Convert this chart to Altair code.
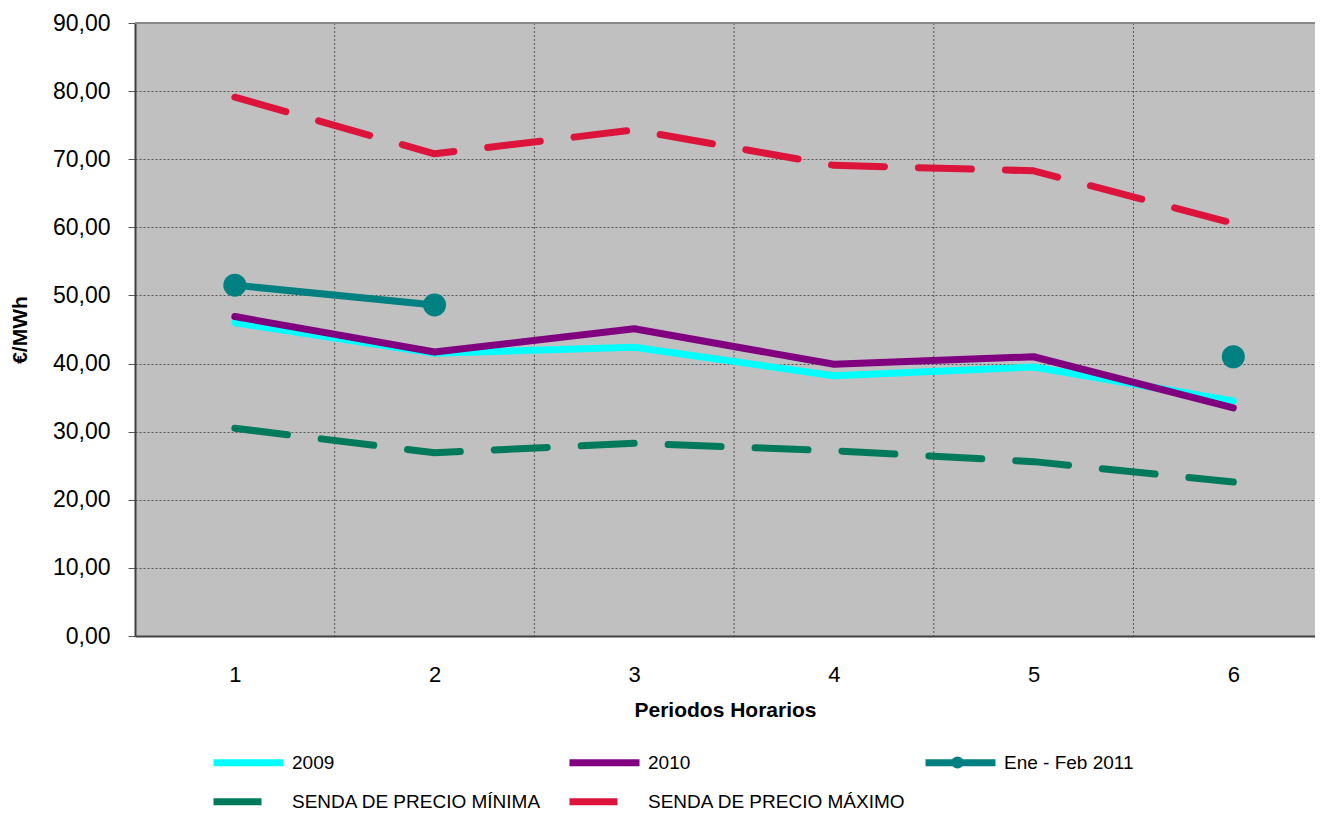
import altair as alt
import pandas as pd

periods = [1, 2, 3, 4, 5, 6]
solid_names = ["2009", "2010", "Ene - Feb 2011"]
dash_names = ["SENDA DE PRECIO MÍNIMA", "SENDA DE PRECIO MÁXIMO"]
s2009 = [46.0, 41.5, 42.4, 38.2, 39.5, 34.5]
s2010 = [46.9, 41.7, 45.1, 39.9, 41.0, 33.5]
s2011 = [51.5, 48.6, None, None, None, 41.0]
s_min = [30.5, 26.9, 28.3, 27.2, 25.6, 22.6]
s_max = [79.1, 70.8, 74.3, 69.1, 68.3, 60.6]
solid_colors = ["#00FFFF", "#800080", "#008080"]
dash_colors = ["#007A5A", "#DC143C"]
grid_x = [1.5, 2.5, 3.5, 4.5, 5.5]
y_ticks = [0, 10, 20, 30, 40, 50, 60, 70, 80, 90]

rows = []
for name, vals in zip(solid_names + dash_names, [s2009, s2010, s2011, s_min, s_max]):
    for p, v in zip(periods, vals):
        rows.append({"period": p, "series": name, "value": v})
df = pd.DataFrame(rows)

FONT = "Liberation Sans"
xscale = alt.Scale(domain=[0.5, 6.409], nice=False, zero=False)
yscale = alt.Scale(domain=[0, 90], nice=False)

x_axis = alt.Axis(
    values=periods, title="Periodos Horarios", grid=False, ticks=False,
    labelFontSize=22, labelFont=FONT, labelColor="black", labelPadding=28,
    titleFontSize=21, titleFont=FONT, titleFontWeight="bold", titleColor="black",
    titlePadding=14, domainColor="#404040", domainWidth=2, labelFlush=False,
)
y_axis = alt.Axis(
    values=y_ticks, title="€/MWh",
    labelExpr="replace(format(datum.value, '.2f'), '.', ',')",
    labelFontSize=23, labelFont=FONT, labelColor="black", labelPadding=18,
    tickSize=7, tickColor="#555555", tickWidth=1,
    gridColor="#555555", gridDash=[2, 2], gridWidth=1, gridOpacity=1,
    domainColor="#404040", domainWidth=2,
    titleFontSize=21, titleFont=FONT, titleFontWeight="bold", titleColor="black",
    titlePadding=22,
)

common_legend = dict(
    title=None, orient="none", direction="horizontal",
    symbolType="stroke", symbolSize=4900, symbolStrokeWidth=7,
    labelFontSize=19, labelFont=FONT, labelColor="black", labelOffset=5,
    labelLimit=500, gridAlign="all", padding=0, symbolOpacity=1,
)
legend1 = alt.Legend(legendX=75, legendY=701, columns=3, columnPadding=133, **common_legend)
legend2 = alt.Legend(legendX=75, legendY=740, columns=2, columnPadding=5,
                     symbolDash=[48, 200], **common_legend)
legend3 = alt.Legend(
    title=None, orient="none", legendX=816, legendY=733,
    symbolSize=150, symbolFillColor="#008080", symbolStrokeColor="#008080",
    symbolStrokeWidth=0, symbolOpacity=1, labelExpr="''", padding=0,
)

base = alt.Chart(df)
X = alt.X("period:Q", scale=xscale, axis=x_axis)
Y = alt.Y("value:Q", scale=yscale, axis=y_axis)

grid = alt.Chart(pd.DataFrame({"gx": grid_x})).mark_rule(
    color="#555555", strokeDash=[2, 2], strokeWidth=1
).encode(x=alt.X("gx:Q", scale=xscale, axis=x_axis))

top = alt.Chart(pd.DataFrame({"t": [90]})).mark_rule(
    color="#888888", strokeWidth=2
).encode(y=alt.Y("t:Q", scale=yscale, axis=y_axis))

dashed = base.transform_filter(
    alt.FieldOneOfPredicate(field="series", oneOf=dash_names)
).mark_line(
    strokeWidth=7, strokeCap="round", strokeJoin="round", strokeDash=[53, 34],
).encode(
    x=X, y=Y,
    color=alt.Color("series:N", scale=alt.Scale(domain=dash_names, range=dash_colors), legend=legend2),
    order=alt.Order("period:Q"),
)

solid = base.transform_filter(
    alt.FieldOneOfPredicate(field="series", oneOf=solid_names)
).mark_line(
    strokeWidth=7, strokeCap="round", strokeJoin="round",
    invalid="break-paths-show-domains",
).encode(
    x=X, y=Y,
    color=alt.Color("series:N", scale=alt.Scale(domain=solid_names, range=solid_colors), legend=legend1),
    order=alt.Order("period:Q"),
)

points = base.transform_filter(
    "datum.series == 'Ene - Feb 2011' && isValid(datum.value)"
).mark_point(size=530, opacity=1, filled=True, color="#008080").encode(
    x=X, y=Y,
    shape=alt.Shape("series:N", scale=alt.Scale(domain=["Ene - Feb 2011"], range=["circle"]), legend=legend3),
)

chart = alt.layer(grid, top, dashed, solid, points).resolve_scale(
    color="independent"
).properties(
    width=1180, height=613,
    autosize=alt.AutoSizeParams(type="none"),
    padding={"left": 127, "top": 15, "right": 0, "bottom": 176},
    background="white",
).configure_view(stroke=None, fill="#C0C0C0")

chart.save("out.html", embed_options={"renderer": "svg", "actions": False})
